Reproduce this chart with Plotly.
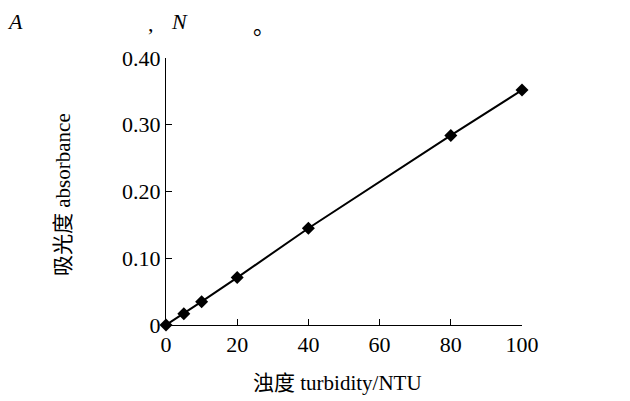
import plotly.graph_objects as go

turbidity = [0, 5, 10, 20, 40, 80, 100]
absorbance = [0, 0.017, 0.035, 0.071, 0.145, 0.284, 0.352]
x_ticks = [0, 20, 40, 60, 80, 100]
x_tick_labels = ["0", "20", "40", "60", "80", "100"]
y_ticks = [0, 0.1, 0.2, 0.3, 0.4]
y_tick_labels = ["0", "0.10", "0.20", "0.30", "0.40"]
x_title = "浊度 turbidity/NTU"
y_title = "吸光度 absorbance"

FONT = "Liberation Serif, Times New Roman, Noto Sans CJK SC, serif"
W, H = 630, 401
L, R, T, B = 166, 108, 58, 76

fig = go.Figure()
fig.add_trace(go.Scatter(
    x=turbidity, y=absorbance, mode="lines+markers",
    line=dict(color="black", width=2),
    marker=dict(symbol="diamond", size=10, color="black"),
    cliponaxis=False, showlegend=False,
))

fig.update_layout(
    width=W, height=H,
    margin=dict(l=L, r=R, t=T, b=B, autoexpand=False),
    paper_bgcolor="white", plot_bgcolor="white",
    font=dict(family=FONT, size=22, color="black"),
    xaxis=dict(
        range=[0, 100], tickvals=x_ticks, ticktext=x_tick_labels,
        ticks="inside", ticklen=6, tickcolor="black", tickwidth=1,
        showline=True, linecolor="black", linewidth=1,
        showgrid=False, zeroline=False, automargin=False,
        tickfont=dict(size=22),
    ),
    yaxis=dict(
        range=[0, 0.4], tickvals=y_ticks, ticktext=y_tick_labels,
        ticks="inside", ticklen=6, tickcolor="black", tickwidth=1,
        showline=True, linecolor="black", linewidth=1,
        showgrid=False, zeroline=False, automargin=False,
        tickfont=dict(size=22),
    ),
)


def px(xp, yp):
    pw, ph = W - L - R, H - T - B
    return (xp - L) / pw, (H - B - yp) / ph


# axis titles
ax, ay = px(337, 383)
fig.add_annotation(text=x_title, x=ax, y=ay, xref="paper", yref="paper",
                   showarrow=False, xanchor="center", yanchor="middle",
                   font=dict(family=FONT, size=21, color="black"))
ax, ay = px(63, 195)
fig.add_annotation(text=y_title, x=ax, y=ay, xref="paper", yref="paper",
                   showarrow=False, xanchor="center", yanchor="middle", textangle=-90,
                   font=dict(family=FONT, size=21, color="black"))

# header text fragments
for txt, xp, yp in [("<i>A</i>", 15, 22), (",", 151, 24), ("<i>N</i>", 179, 22), ("。", 264, 27)]:
    ax, ay = px(xp, yp)
    fig.add_annotation(text=txt, x=ax, y=ay, xref="paper", yref="paper",
                       showarrow=False, xanchor="center", yanchor="middle",
                       font=dict(family=FONT, size=22, color="black"))

fig.write_html("out.html", config={"displayModeBar": False},
               post_script="document.body.style.margin='0';document.body.style.overflow='hidden';")
